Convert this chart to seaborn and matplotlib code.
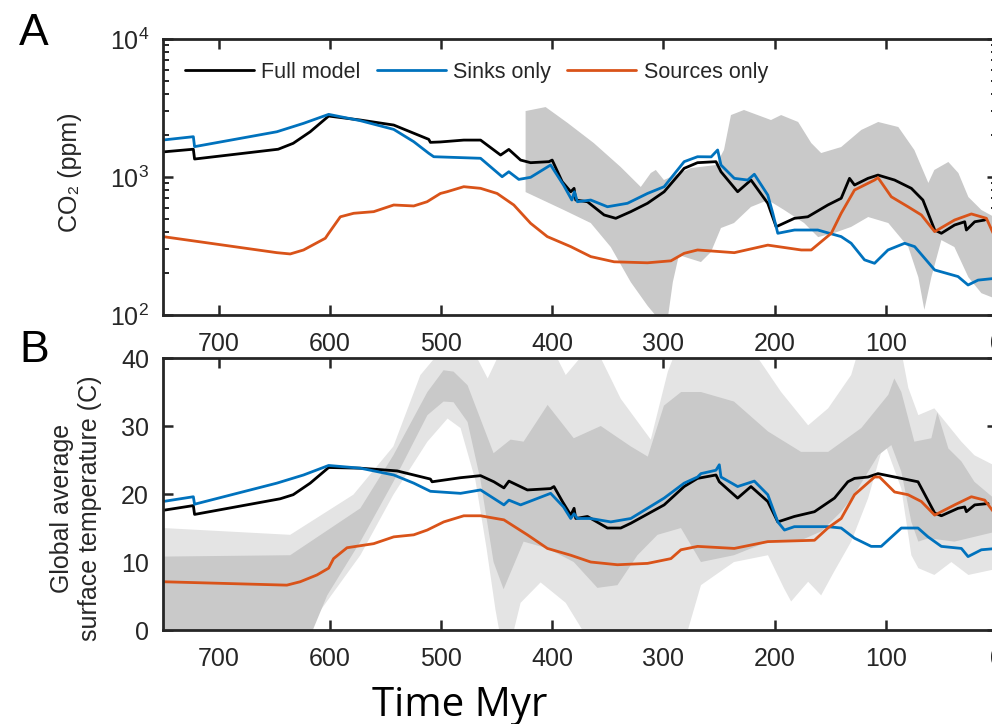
import numpy as np
import matplotlib
matplotlib.use("Agg")
import matplotlib.pyplot as plt
import seaborn as sns

# ---------------- data (time in Myr before present) ----------------
# Panel A: atmospheric CO2 (ppm)
full_co2_t = [750, 722.7, 721.6, 646.4, 632.9, 617.6, 601, 572.5, 542.5, 511, 509.5, 500.5,
              479.5, 464.4, 446.4, 439, 428.4, 419.4, 402.9, 400, 391, 383.3, 380.3, 378.8,
              368.3, 353.3, 342.8, 329.3, 314.3, 299.3, 281.3, 269.3, 252.7, 248.2, 233.2,
              221.2, 206.1, 198.6, 182.1, 170.1, 152.1, 140.1, 132.6, 128.1, 116, 107, 92.1,
              77, 66.6, 56, 50, 38.1, 29, 27.5, 20, 11]
full_co2 = [1520, 1590, 1350, 1590, 1755, 2128, 2766, 2588, 2380, 1875, 1783, 1795,
            1852, 1852, 1443, 1585, 1327, 1270, 1292, 1327, 925, 782, 828, 681,
            662, 531, 502, 561, 645, 782, 1156, 1270, 1292, 1092, 782,
            951, 645, 436, 502, 515, 627, 701, 978, 875, 978, 1033, 951,
            828, 681, 413, 391, 449, 474, 413, 474, 488]

sinks_co2_t = [750, 722.7, 721.6, 647.6, 623.6, 601, 572.5, 542.5, 524.5, 511, 506.5, 464.4,
               445, 439, 430, 419.4, 401.4, 389.8, 382.3, 380, 377.3, 365.3, 350.3, 332.3,
               314.3, 299.3, 281.3, 269.3, 257, 251.2, 248.2, 236.2, 224.2, 218.2, 206.1,
               201.6, 197.1, 182.1, 161.1, 140.1, 131.1, 119.1, 110.1, 98, 83, 74, 56, 35,
               26, 17, 0]
sinks_co2 = [1854, 1960, 1660, 2128, 2449, 2845, 2560, 2214, 1803, 1486, 1403, 1367,
             1005, 1092, 961, 995, 1222, 875, 681, 782, 662, 681, 609, 645,
             760, 851, 1292, 1403, 1400, 1570, 1222, 978, 951, 1047, 740,
             546, 391, 413, 413, 370, 331, 251, 237, 296, 331, 313, 212, 190,
             165, 179, 185]

sources_co2_t = [750, 647.6, 635.6, 623.6, 604, 601, 590.5, 578.5, 560.5, 542.5, 524.5, 512.5,
                 500.5, 494.6, 479.5, 464.4, 449.5, 434.5, 419.4, 404.4, 383.3, 365.3, 344.3,
                 314.3, 293.2, 281.3, 269.3, 236.2, 206.1, 176, 167, 149, 140.1, 128.1, 110.1,
                 107, 95, 80, 68, 56, 38.1, 23, 9.5, 0]
sources_co2 = [370, 283, 277, 296, 360, 391, 515, 546, 561, 627, 617, 662,
               760, 782, 851, 828, 760, 627, 462, 370, 313, 265, 243,
               239, 247, 280, 296, 283, 321, 296, 296, 391, 546, 805, 951,
               990, 719, 609, 531, 402, 488, 540, 502, 340]

# proxy CO2 envelope
proxy_hi_t = [423.9, 405.9, 386, 362.6, 338.3, 320.3, 311.3, 306.8, 299.5, 275.2, 252.7, 245.5,
              239.2, 227.5, 203.2, 194.1, 178.8, 167, 158.1, 140.1, 122, 106.8, 88.7, 74.3,
              61.7, 56.3, 43.7, 34.7, 25.7, 14, 0]
proxy_hi = [3006, 3213, 2461, 1763, 1180, 847, 1069, 1125, 951, 1161, 1222, 1570,
            2812, 3060, 2588, 2812, 2505, 1763, 1492, 1649, 2193, 2505, 2303, 1570,
            906, 1125, 1285, 1069, 716, 577, 500]
proxy_lo_t = [423.9, 389.6, 365.3, 347.3, 329.3, 314, 305, 296, 291.5, 286, 277.9, 266.2,
              257.2, 248.2, 236.5, 221.2, 205.9, 191.4, 173.4, 160.8, 146.4, 131.1, 115.8,
              97.7, 79.7, 70.7, 65.3, 59, 50, 38.3, 25.7, 14, 0]
proxy_lo = [778, 577, 464, 311, 173, 116, 95, 95, 173, 272, 259, 242,
            286, 427, 464, 607, 681, 577, 464, 367, 393, 435, 513,
            464, 311, 188, 109, 188, 349, 311, 188, 144, 130]

# Panel B: global average surface temperature (C)
full_temp_t = [750, 722.7, 721.6, 644.6, 632.9, 617.6, 601, 572.5, 539.5, 509.5, 508, 482.4,
               464.4, 452.4, 443.4, 438.9, 422.3, 401.4, 398.4, 390.8, 383.3, 380.3, 378.8,
               368.3, 350.3, 338.3, 329.3, 299.3, 281.3, 269.3, 252.7, 249.7, 233.2, 221.2,
               206.1, 197.1, 182.2, 164.1, 146.1, 134.1, 128.1, 116, 107, 86, 71, 56, 50,
               35, 29, 27.5, 20, 8]
full_temp = [17.6, 18.3, 17.0, 19.3, 19.9, 21.6, 23.9, 23.8, 23.4, 22.2, 21.8, 22.4,
             22.7, 21.8, 20.9, 21.9, 20.6, 20.8, 21.1, 18.9, 16.9, 17.9, 16.4,
             16.7, 15.0, 15.0, 15.7, 18.4, 21.1, 22.3, 22.8, 21.8, 19.4, 21.1,
             18.9, 15.9, 16.7, 17.4, 19.4, 21.8, 22.3, 22.5, 23.0, 22.3, 21.8, 17.2, 16.8,
             17.9, 18.1, 17.4, 18.4, 18.6]

sinks_temp_t = [750, 722.7, 721.6, 647.6, 623.6, 601, 572.5, 542.5, 524.5, 509.5, 482.4, 464.4,
                443.4, 438.9, 428.4, 401.4, 389.8, 383.3, 380.3, 377.3, 365.3, 347.3, 329.3,
                314.3, 299.3, 281.3, 269.3, 266.2, 252.7, 249.7, 248.2, 233.2, 218.2, 206.1,
                197.1, 191.1, 182.2, 152.1, 140.1, 128.1, 113.1, 104.1, 86, 71, 62, 50, 32,
                26, 14, 0]
sinks_temp = [18.9, 19.6, 18.5, 21.6, 22.8, 24.2, 23.8, 22.8, 21.6, 20.4, 20.1, 20.6,
              18.4, 19.1, 18.4, 20.1, 18.1, 16.4, 17.1, 16.4, 16.4, 15.9, 16.4,
              17.9, 19.4, 21.6, 22.5, 23.0, 23.5, 24.3, 22.5, 21.1, 21.9, 19.9,
              15.9, 14.7, 15.2, 15.2, 15.0, 13.5, 12.3, 12.3, 15.0, 15.0, 13.7, 12.3, 12.0,
              10.8, 11.8, 12.0]

sources_temp_t = [750, 638.6, 626.6, 611.5, 601, 596.6, 584.5, 560.5, 542.5, 524.5, 512.4,
                  497.5, 479.5, 464.4, 443.4, 422.3, 404.3, 383.3, 365.3, 341.3, 314.2, 293.2,
                  284.2, 269.2, 236.2, 206.1, 164.1, 152.1, 140.1, 128.1, 110.1, 105.6, 92.1,
                  80, 68, 56, 38.1, 23, 11, 3.2]
sources_temp = [7.1, 6.6, 7.1, 8.1, 9.1, 10.5, 12.1, 12.7, 13.7, 14.0, 14.7,
                15.9, 16.8, 16.8, 16.2, 14.0, 12.0, 11.0, 10.0, 9.6, 9.8, 10.5,
                11.8, 12.3, 12.0, 13.0, 13.2, 15.0, 16.4, 19.9, 22.5, 22.5, 20.3,
                19.9, 18.9, 16.9, 18.4, 19.6, 19.1, 17.4]

# proxy temperature envelopes: outer (light) and inner (dark)
outer_hi_t = [750, 635.6, 578.8, 542.8, 518.5, 500.5, 470.7, 458, 446.4, 398.6, 387.8, 369.8,
              356.3, 338.3, 311.3, 296, 288.8, 227.5, 214.9, 194.1, 169.8, 151.8, 131.1,
              124.8, 86, 79.7, 70.7, 56.3, 32, 20.3, 0]
outer_hi = [15.0, 14.0, 19.9, 27.0, 37.5, 41, 41, 37, 41, 41, 37.5, 41,
            40, 34, 28, 38, 41, 41, 40, 35, 30.1, 32.6, 37.5,
            41, 41, 35.6, 31.6, 32.6, 27.7, 25.7, 24]
outer_lo_t = [750, 626.6, 621.2, 572.5, 542.8, 512.2, 494.1, 482.4, 469, 459, 451, 445.5,
              437.4, 428.4, 410.4, 387.8, 365.3, 281.5, 266.2, 236.5, 205.9, 191.4, 185.1,
              169.8, 158.1, 146.4, 131.1, 115.8, 101.4, 86, 77, 70.7, 56.3, 41, 25.7, 0]
outer_lo = [-2, -2, 0, 11.0, 19.9, 27.7, 31.1, 29.7, 22, 12, 3, -2,
            -2, 4, 7, 4, -2, -2, 6.6, 10.0, 11.0, 6.1, 4.2,
            7.1, 5.1, 8.6, 13.0, 19.4, 27.7, 20.8, 11.0, 9.1, 8.1, 10, 8.1, 9]

inner_hi_t = [750, 635.6, 572.5, 542.8, 512.2, 497.7, 488.7, 476.1, 464.4, 452.7, 437.4, 425.7,
              404.1, 380.6, 356.3, 329.3, 314, 299.5, 284, 266.2, 236.5, 205.9, 176.2, 151.8,
              122, 97.7, 92.3, 86, 74.3, 59, 53.6, 43.7, 32, 20.3, 0]
inner_hi = [10.8, 11.0, 17.9, 25.7, 35.0, 38.2, 38.0, 36.0, 31, 26, 28, 27.7,
            33.1, 28.2, 30, 27, 25.5, 33, 35.0, 35.0, 33.6, 29.2, 26.2, 26.2,
            29.7, 34.6, 37.0, 35.0, 27.7, 28.2, 32, 26.7, 24.8, 21.8, 19]
inner_lo_t = [750, 620.3, 602.3, 572.5, 542.8, 512.2, 497.7, 488.7, 476.1, 464.4, 452.7, 443.7,
              425.7, 404.1, 380.6, 359.3, 341.3, 323.3, 305.3, 284.2, 266.2, 236.5, 205.9,
              176.2, 158.1, 140.1, 128.4, 106.8, 95, 86, 77, 70.7, 61.7, 38.3, 0]
inner_lo = [-2, -2, 5.1, 13.0, 21.8, 31.6, 33.6, 33.5, 30.6, 22, 10, 6,
            13, 12, 10, 6.2, 6.6, 11, 14, 15, 10.0, 11.0, 13.0,
            13.2, 14.5, 17.4, 19.9, 25.7, 27.2, 23.3, 15.9, 13.0, 13.5, 13.0, 14.5]

time_ticks = [700, 600, 500, 400, 300, 200, 100, 0]

# ---------------- style ----------------
sns.set_theme(style="white")
plt.rcParams["font.family"] = ["Liberation Sans", "DejaVu Sans"]

BLACK = "#000000"
BLUE = "#0072BD"
ORANGE = "#D95319"
SPINE = "#262626"

fig = plt.figure(figsize=(9.92, 7.24), dpi=100)
axA = fig.add_axes([0.1643, 0.5649, 0.8407, 0.3812])
axB = fig.add_axes([0.1643, 0.1298, 0.8407, 0.3757])


def polygon(ax, t_hi, v_hi, t_lo, v_lo, color):
    xs = list(t_hi) + list(t_lo)[::-1]
    ys = list(v_hi) + list(v_lo)[::-1]
    ax.fill(xs, ys, color=color, linewidth=0, zorder=1)


def draw_line(ax, t, v, color, label=None):
    sns.lineplot(x=np.asarray(t, float), y=np.asarray(v, float), ax=ax, color=color,
                 linewidth=2.0, estimator=None, sort=False, label=label, zorder=3)


# ---------------- panel A ----------------
polygon(axA, proxy_hi_t, proxy_hi, proxy_lo_t, proxy_lo, "#C9C9C9")
draw_line(axA, full_co2_t, full_co2, BLACK, "Full model")
draw_line(axA, sinks_co2_t, sinks_co2, BLUE, "Sinks only")
draw_line(axA, sources_co2_t, sources_co2, ORANGE, "Sources only")
axA.set_yscale("log")
axA.set_ylim(100, 10000)

leg = axA.legend(loc="center left", bbox_to_anchor=(0.0264, 0.880), ncol=3, frameon=False,
                 fontsize=15.5, handlelength=3.2, handletextpad=0.35, columnspacing=0.75,
                 borderpad=0, borderaxespad=0)

# ---------------- panel B ----------------
polygon(axB, outer_hi_t, outer_hi, outer_lo_t, outer_lo, "#E4E4E4")
polygon(axB, inner_hi_t, inner_hi, inner_lo_t, inner_lo, "#C9C9C9")
draw_line(axB, full_temp_t, full_temp, BLACK)
draw_line(axB, sinks_temp_t, sinks_temp, BLUE)
draw_line(axB, sources_temp_t, sources_temp, ORANGE)
axB.set_ylim(0, 40)
axB.set_yticks([0, 10, 20, 30, 40])

for ax in (axA, axB):
    ax.set_xlim(750, 0)
    ax.set_xticks(time_ticks)
    ax.set_xticklabels([str(v) for v in time_ticks])
    ax.set_xlabel("")
    ax.set_ylabel("")
    ax.set_facecolor("white")
    for s in ax.spines.values():
        s.set_color(SPINE)
        s.set_linewidth(2.0)
        s.set_visible(True)
        s.set_zorder(5)
    ax.tick_params(which="both", direction="in", bottom=True, left=True, top=True, right=True,
                   colors=SPINE, labelcolor="#262626", labelsize=18)
    ax.tick_params(which="major", length=7, width=1.8)
    ax.tick_params(which="minor", length=4.5, width=1.4)
    ax.tick_params(axis="x", pad=12)
    ax.tick_params(axis="y", pad=10)

# ---------------- labels ----------------
W, H = 992.0, 724.0
fig.text(70 / W, 1 - 172 / H, "CO₂ (ppm)", rotation=90, ha="center", va="center",
         fontsize=18, color="#262626")
fig.text(76 / W, 1 - 508 / H, "Global average\nsurface temperature (C)", rotation=90,
         ha="center", va="center", multialignment="center", linespacing=1.25,
         fontsize=18, color="#262626")
fig.text(19 / W, 1 - 45 / H, "A", fontsize=32, ha="left", va="baseline", color="black")
fig.text(19 / W, 1 - 362 / H, "B", fontsize=32, ha="left", va="baseline", color="black")
fig.text(460 / W, 1 - 716 / H, "Time Myr", fontsize=29, ha="center", va="baseline",
         family=["Open Sans", "DejaVu Sans"], color="black")

fig.savefig("out.png", dpi=100)
